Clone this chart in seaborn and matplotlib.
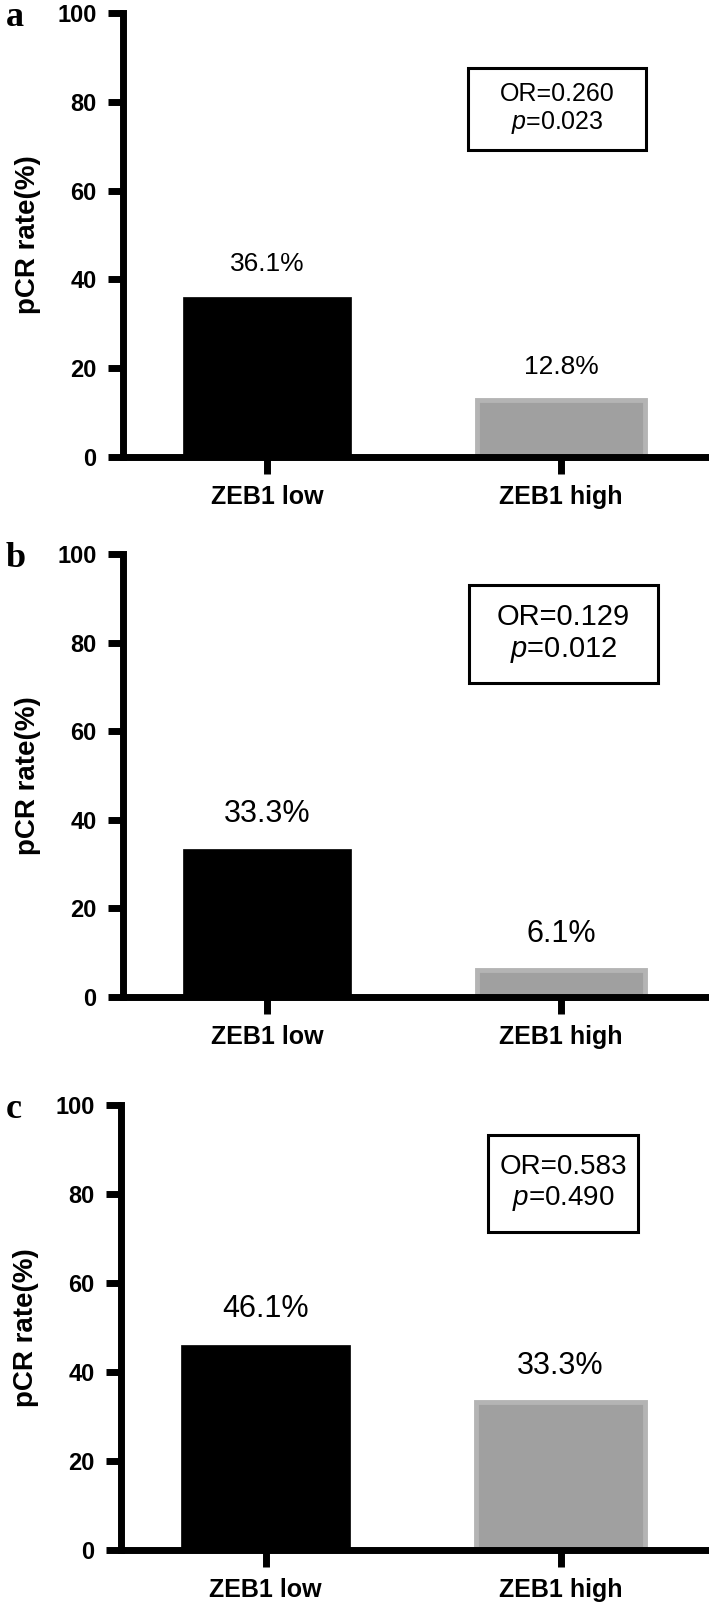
import matplotlib
matplotlib.use('Agg')

import pandas as pd
import seaborn as sns
import matplotlib.pyplot as plt
from matplotlib.patches import Rectangle

# data
categories = ['ZEB1 low', 'ZEB1 high']
rates_a = [36.1, 12.8]
rates_b = [33.3, 6.1]
rates_c = [46.1, 33.3]
or_values = ['0.260', '0.129', '0.583']
p_values = ['0.023', '0.012', '0.490']
panel_letters = ['a', 'b', 'c']

sns.set_style('ticks')
plt.rcParams['font.family'] = ['Liberation Sans', 'DejaVu Sans']
plt.rcParams['mathtext.fontset'] = 'custom'
plt.rcParams['mathtext.rm'] = 'Liberation Sans'
plt.rcParams['mathtext.it'] = 'Liberation Sans:italic'
plt.rcParams['text.color'] = 'black'
plt.rcParams['axes.labelcolor'] = 'black'
plt.rcParams['axes.edgecolor'] = 'black'
plt.rcParams['xtick.color'] = 'black'
plt.rcParams['ytick.color'] = 'black'

W, H = 709, 1610
fig = plt.figure(figsize=(W / 100, H / 100), dpi=100)

# axes rectangles in pixels: left, top(100), right, bottom(0)
panels = [
    dict(rates=rates_a, px=(123, 13, 708, 457), box=(468, 68, 646, 150), box_fs=18, val_fs=19),
    dict(rates=rates_b, px=(123, 554, 708, 997), box=(469, 585, 658, 683), box_fs=21, val_fs=22),
    dict(rates=rates_c, px=(121, 1105, 708, 1550), box=(488, 1135, 638, 1232), box_fs=20, val_fs=22),
]

bar_colors = ['black', '#a0a0a0']
edge_colors = ['black', '#b4b4b4']

for i, p in enumerate(panels):
    l, t, r, b = p['px']
    ax = fig.add_axes([l / W, 1 - b / H, (r - l) / W, (b - t) / H])
    df = pd.DataFrame({'group': categories, 'rate': p['rates']})
    sns.barplot(data=df, x='group', y='rate', hue='group', palette=bar_colors,
                width=0.573, legend=False, ax=ax, saturation=1)
    for patch, ec in zip(ax.patches, edge_colors):
        patch.set_edgecolor(ec)
        patch.set_linewidth(3.5 if ec != 'black' else 0.5)

    for x, v in enumerate(p['rates']):
        ax.annotate(f'{v}%', xy=(x, v), xytext=(0, 15), textcoords='offset points',
                    ha='center', va='bottom', fontsize=p['val_fs'])

    ax.set_xlim(-0.49, 1.5)
    ax.set_ylim(0, 100)
    ax.set_yticks([0, 20, 40, 60, 80, 100])
    ax.set_xlabel('')
    ax.set_ylabel('pCR rate(%)', fontsize=20, fontweight='bold')
    ax.yaxis.set_label_coords(-0.14, 0.5)
    sns.despine(ax=ax)
    for side in ['left', 'bottom']:
        ax.spines[side].set_linewidth(5)
    ax.tick_params(axis='y', length=11, width=5, pad=8, labelsize=17)
    ax.tick_params(axis='x', length=12, width=5, pad=8, labelsize=18)
    for lab in ax.get_xticklabels() + ax.get_yticklabels():
        lab.set_fontweight('bold')

    # OR / p box
    bx0, by0, bx1, by1 = p['box']
    rect = Rectangle(((bx0 - l) / (r - l), (b - by1) / (b - t)),
                     (bx1 - bx0) / (r - l), (by1 - by0) / (b - t),
                     transform=ax.transAxes, fill=False, ec='black', lw=2.2, clip_on=False)
    ax.add_patch(rect)
    cx = ((bx0 + bx1) / 2 - l) / (r - l)
    cy = (b - (by0 + by1) / 2) / (b - t)
    ax.text(cx, cy, f'OR={or_values[i]}\n$p$={p_values[i]}', transform=ax.transAxes,
            ha='center', va='center', multialignment='center', fontsize=p['box_fs'],
            linespacing=1.15)

    fig.text(6 / W, 1 - (t + 13) / H, panel_letters[i], fontsize=26, fontweight='bold',
             family=['Liberation Serif', 'DejaVu Serif'], va='baseline', ha='left')

fig.savefig('out.png', dpi=100)
